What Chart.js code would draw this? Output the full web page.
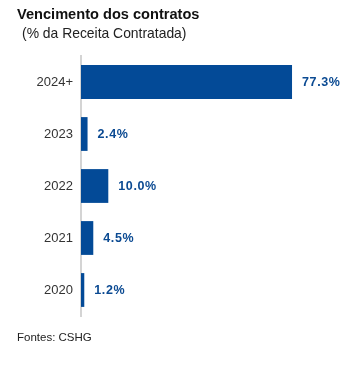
<!DOCTYPE html>
<html>
<head>
<meta charset="utf-8">
<script src="https://cdn.jsdelivr.net/npm/chart.js@4"></script>
<style>
  body { margin: 0; background: #fff; font-family: "Liberation Sans", Arial, sans-serif; }
  #wrap { position: relative; width: 360px; height: 367px; }
  #title { position: absolute; left: 17px; top: 6px; font-size: 14.6px; font-weight: bold; color: #111; }
  #subtitle { position: absolute; left: 22px; top: 25px; font-size: 13.9px; color: #222; }
  #source { position: absolute; left: 17px; top: 331px; font-size: 11.5px; color: #222; }
  #myChart { position: absolute; left: 0; top: 0; }
</style>
</head>
<body>
<div id="wrap">
  <canvas id="myChart" width="360" height="367"></canvas>
  <div id="title">Vencimento dos contratos</div>
  <div id="subtitle">(% da Receita Contratada)</div>
  <div id="source">Fontes: CSHG</div>
</div>
<script>
const categories = ['2024+', '2023', '2022', '2021', '2020'];
const values = [77.3, 2.4, 10.0, 4.5, 1.2];
const valueLabels = ['77.3%', '2.4%', '10.0%', '4.5%', '1.2%'];

const barColor = '#034a97';

// draws the percentage next to each bar
const valueLabelPlugin = {
    id: 'valueLabels',
    afterDatasetsDraw(chart) {
        const ctx = chart.ctx;
        const meta = chart.getDatasetMeta(0);
        ctx.save();
        ctx.font = 'bold 12.5px "Liberation Sans", Arial, sans-serif';
        ctx.letterSpacing = '0.6px';
        ctx.fillStyle = '#0b4a92';
        ctx.textAlign = 'left';
        ctx.textBaseline = 'middle';
        meta.data.forEach((bar, i) => {
            ctx.fillText(valueLabels[i], bar.x + 10, bar.y + 1);
        });
        ctx.restore();
    }
};

const ctx = document.getElementById('myChart').getContext('2d');
const myChart = new Chart(ctx, {
    type: 'bar',
    data: {
        labels: categories,
        datasets: [{
            data: values,
            backgroundColor: barColor,
            borderWidth: 0,
            barPercentage: 0.65,
            categoryPercentage: 1
        }]
    },
    options: {
        indexAxis: 'y',
        responsive: false,
        animation: false,
        layout: { padding: { top: 56, bottom: 51, right: 6, left: 0 } },
        plugins: {
            legend: { display: false },
            tooltip: { enabled: false }
        },
        scales: {
            x: {
                display: false,
                min: 0,
                max: 100
            },
            y: {
                afterFit(scale) { scale.width = 81; },
                grid: { display: false, drawTicks: false },
                border: { display: true, color: '#d4d4d4', width: 2 },
                ticks: {
                    color: '#333',
                    padding: 8,
                    font: { size: 13, family: '"Liberation Sans", Arial, sans-serif' }
                }
            }
        }
    },
    plugins: [valueLabelPlugin]
});
</script>
</body>
</html>
